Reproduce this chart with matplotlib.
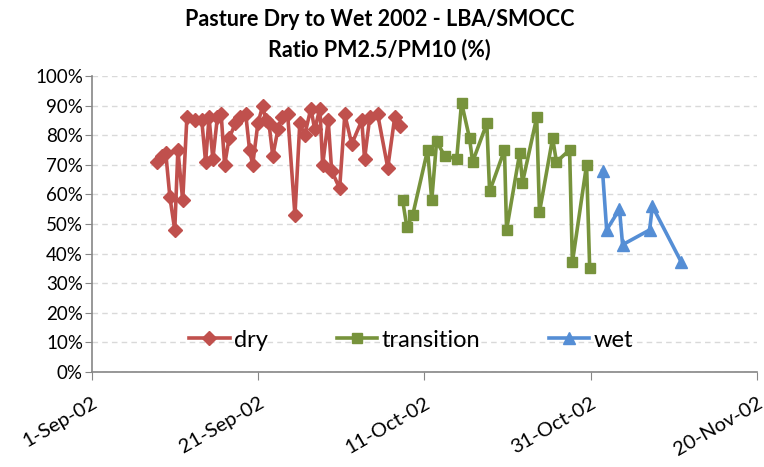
import numpy as np
import pandas as pd
import matplotlib
matplotlib.use("Agg")
import matplotlib.pyplot as plt
from matplotlib.ticker import MultipleLocator, FuncFormatter

plt.rcParams['font.family'] = ['Lato', 'DejaVu Sans']

# dry season samples (date, PM2.5/PM10 in %)
dry_dates = ['2002-09-08 19:00', '2002-09-09 10:00', '2002-09-09 21:00', '2002-09-10 09:00',
             '2002-09-10 23:00', '2002-09-11 08:00', '2002-09-11 22:00', '2002-09-12 10:00',
             '2002-09-13 09:00', '2002-09-14 05:00', '2002-09-14 16:00', '2002-09-15 02:00',
             '2002-09-15 13:00', '2002-09-16 02:00', '2002-09-16 13:00', '2002-09-16 23:00',
             '2002-09-17 12:00', '2002-09-18 06:00', '2002-09-18 20:00', '2002-09-19 12:00',
             '2002-09-19 23:00', '2002-09-20 08:00', '2002-09-20 23:00', '2002-09-21 13:00',
             '2002-09-21 22:00', '2002-09-22 07:00', '2002-09-22 18:00', '2002-09-23 09:00',
             '2002-09-23 20:00', '2002-09-24 13:00', '2002-09-25 10:00', '2002-09-26 00:00',
             '2002-09-26 14:00', '2002-09-27 08:00', '2002-09-27 19:00', '2002-09-28 10:00',
             '2002-09-28 18:00', '2002-09-29 10:00', '2002-09-29 20:00', '2002-09-30 19:00',
             '2002-10-01 10:00', '2002-10-02 06:00', '2002-10-03 11:00', '2002-10-03 19:00',
             '2002-10-04 10:00', '2002-10-05 09:00', '2002-10-06 14:00', '2002-10-07 10:00',
             '2002-10-08 00:00']
dry_vals = [71, 73, 74, 59, 48, 75, 58, 86, 85, 85, 71, 86, 72, 86, 87, 70,
            79, 84, 86, 87, 75, 70, 84, 90, 85, 84, 73, 82, 86, 87, 53, 84,
            80, 89, 82, 89, 70, 85, 68, 62, 87, 77, 85, 72, 86, 87, 69, 86, 83]

trans_dates = ['2002-10-08 09:00', '2002-10-08 21:00', '2002-10-09 14:00', '2002-10-11 09:00',
               '2002-10-11 21:00', '2002-10-12 11:00', '2002-10-13 10:00', '2002-10-14 21:00',
               '2002-10-15 11:00', '2002-10-16 10:00', '2002-10-16 19:00', '2002-10-18 12:00',
               '2002-10-18 20:00', '2002-10-20 15:00', '2002-10-20 21:00', '2002-10-22 11:00',
               '2002-10-22 19:00', '2002-10-24 12:00', '2002-10-24 20:00', '2002-10-26 10:00',
               '2002-10-26 21:00', '2002-10-28 11:00', '2002-10-28 19:00', '2002-10-30 12:00',
               '2002-10-30 21:00']
trans_vals = [58, 49, 53, 75, 58, 78, 73, 72, 91, 79, 71, 84, 61, 75, 48, 74,
              64, 86, 54, 79, 71, 75, 37, 70, 35]

wet_dates = ['2002-11-01 10:00', '2002-11-01 22:00', '2002-11-03 11:00', '2002-11-03 20:00',
             '2002-11-07 02:00', '2002-11-07 10:00', '2002-11-10 22:00']
wet_vals = [68, 48, 55, 43, 48, 56, 37]

tick_dates = ['2002-09-01', '2002-09-21', '2002-10-11', '2002-10-31', '2002-11-20']
tick_labels = ['1-Sep-02', '21-Sep-02', '11-Oct-02', '31-Oct-02', '20-Nov-02']

fig = plt.figure(figsize=(7.64, 4.67), dpi=100)
ax = fig.add_axes([0.1204, 0.2034, 0.8704, 0.6339])

ax.plot(pd.to_datetime(dry_dates), dry_vals, color='#C0504D', lw=2.6,
        marker='D', ms=7, label='dry')
ax.plot(pd.to_datetime(trans_dates), trans_vals, color='#77933C', lw=2.6,
        marker='s', ms=7, label='transition')
ax.plot(pd.to_datetime(wet_dates), wet_vals, color='#558ED5', lw=2.6,
        marker='^', ms=8, label='wet')

ticks = pd.to_datetime(tick_dates)
ax.set_xlim(ticks[0], ticks[-1])
ax.set_xticks(ticks)
ax.set_xticklabels(tick_labels, rotation=30, ha='right', rotation_mode='anchor',
                   fontsize=14.5)
ax.tick_params(axis='x', length=6, pad=10, color='#868686')

ax.set_ylim(0, 100)
ax.yaxis.set_major_locator(MultipleLocator(10))
ax.yaxis.set_major_formatter(FuncFormatter(lambda v, p: '%d%%' % v))
ax.tick_params(axis='y', length=5, labelsize=13.5, color='#868686', pad=1.5)

ax.grid(axis='y', color='#D9D9D9', ls=(0, (4, 3)), lw=1)
ax.set_axisbelow(True)
for s in ['top', 'right']:
    ax.spines[s].set_visible(False)
for s in ['left', 'bottom']:
    ax.spines[s].set_color('#868686')
    ax.spines[s].set_linewidth(1.2)

ax.legend(loc='center', bbox_to_anchor=(0.48, 0.108), ncol=3, frameon=False,
          fontsize=17, handlelength=1.7, columnspacing=2.9, handletextpad=0.2)

fig.suptitle('Pasture Dry to Wet 2002 - LBA/SMOCC\nRatio PM2.5/PM10 (%)',
             fontsize=15.5, fontweight='bold', y=0.98, x=0.497, linespacing=1.45)

fig.savefig('out.png', dpi=100)
